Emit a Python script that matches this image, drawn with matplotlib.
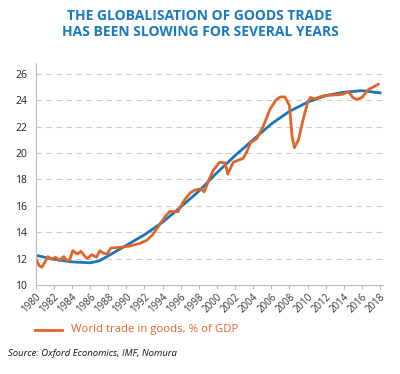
import matplotlib
matplotlib.use('Agg')
import matplotlib.pyplot as plt
from matplotlib.lines import Line2D

plt.rcParams['font.family'] = ['Open Sans', 'DejaVu Sans']

# world trade in goods, % of GDP
trade_years = [1980.0, 1980.4, 1980.7, 1981.0, 1981.35, 1981.8, 1982.2, 1982.6, 1983.1, 1983.5,
               1983.8, 1984.1, 1984.6, 1985.0, 1985.4, 1985.7, 1986.2, 1986.7, 1987.1, 1987.5,
               1987.9, 1988.3, 1989.3, 1990.4, 1991.5, 1992.3, 1992.9, 1993.6, 1994.3, 1994.8,
               1995.7, 1996.2, 1996.6, 1997.1, 1997.6, 1998.3, 1998.6, 1999.05, 1999.6, 2000.3,
               2000.9, 2001.2, 2001.8, 2002.9, 2003.3, 2003.7, 2004.4, 2005.1, 2005.85, 2006.5,
               2007.0, 2007.5, 2008.0, 2008.3, 2008.55, 2009.0, 2009.5, 2010.0, 2010.3, 2010.8,
               2011.55, 2012.3, 2013.2, 2013.9, 2014.5, 2015.0, 2015.4, 2016.0, 2016.7, 2017.8]
trade_vals = [12.05, 11.45, 11.35, 11.7, 12.15, 11.95, 12.1, 11.85, 12.15, 11.8,
              12.0, 12.6, 12.35, 12.55, 12.2, 12.0, 12.3, 12.1, 12.6, 12.4,
              12.35, 12.8, 12.85, 12.95, 13.15, 13.4, 13.8, 14.5, 15.2, 15.57,
              15.55, 16.2, 16.6, 17.0, 17.2, 17.27, 17.05, 17.85, 18.7, 19.3,
              19.25, 18.4, 19.3, 19.6, 20.1, 20.76, 21.1, 22.0, 23.3, 24.0,
              24.25, 24.25, 23.6, 21.2, 20.4, 21.0, 22.5, 23.8, 24.2, 24.1,
              24.3, 24.37, 24.4, 24.45, 24.65, 24.2, 24.05, 24.2, 24.8, 25.2]

# trend line
trend_years = [1980, 1982, 1984, 1986, 1987, 1988, 1990, 1992, 1994, 1996, 1998,
               2000, 2002, 2004, 2006, 2008, 2010, 2012, 2014, 2016, 2018]
trend_vals = [12.25, 11.95, 11.75, 11.68, 11.82, 12.2, 13.0, 13.8, 14.75, 15.9, 17.1,
              18.5, 19.8, 21.0, 22.2, 23.15, 23.85, 24.35, 24.6, 24.72, 24.55]

x_ticks = list(range(1980, 2019, 2))
y_ticks = list(range(10, 27, 2))

blue = '#1b75bb'
orange = '#e0652a'
title_col = '#1a7abf'

fig = plt.figure(figsize=(4.0, 3.74), dpi=100)
ax = fig.add_axes([0.089, 0.238, 0.868, 0.593])

ax.plot(trend_years, trend_vals, color=blue, lw=2.0, solid_joinstyle='round')
ax.plot(trade_years, trade_vals, color=orange, lw=2.0, solid_joinstyle='round')

ax.set_xlim(1980, 2018.3)
ax.set_ylim(10, 26.8)
ax.set_xticks(x_ticks)
ax.set_xticklabels([str(t) for t in x_ticks], rotation=45, ha='right', rotation_mode='anchor',
                   fontsize=7, color='#333333')
ax.set_yticks(y_ticks)
ax.set_yticklabels([str(t) for t in y_ticks], fontsize=7.5, color='#222222')
ax.tick_params(axis='x', length=3, color='#bbbbbb', pad=2)
ax.tick_params(axis='y', length=0, pad=6)

for v in y_ticks[1:]:
    ax.axhline(v, color='#cccccc', lw=0.8, ls=(0, (5, 4)), zorder=0)

for s in ['top', 'right']:
    ax.spines[s].set_visible(False)
ax.spines['left'].set_color('#bbbbbb')
ax.spines['bottom'].set_color('#bbbbbb')

fig.text(0.5, 0.958, 'THE GLOBALISATION OF GOODS TRADE', ha='center', va='center',
         fontsize=10, fontweight='bold', color=title_col)
fig.text(0.5, 0.915, 'HAS BEEN SLOWING FOR SEVERAL YEARS', ha='center', va='center',
         fontsize=10, fontweight='bold', color=title_col)

# legend
fig.add_artist(Line2D([0.088, 0.155], [0.118, 0.118], color=orange, lw=2.0))
fig.text(0.178, 0.118, 'World trade in goods, % of GDP', ha='left', va='center',
         fontsize=8.2, color=orange)
fig.text(0.02, 0.055, 'Source: Oxford Economics, IMF, Nomura', ha='left', va='center',
         fontsize=6.8, style='italic', color='#111111')

fig.savefig('out.png', dpi=100)
